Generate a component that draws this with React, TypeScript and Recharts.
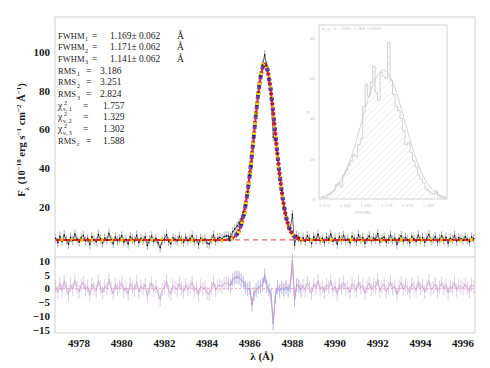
import React from 'react';
import { ComposedChart, Line, Area, XAxis, YAxis, ErrorBar, ReferenceLine } from 'recharts';

// wavelength grid of the spectrum (Å)
const WAVE_START = 4976.9;
const WAVE_STEP = 0.1;

// observed flux, one value per grid point
const FLUX = [
  3.8, 1.6, 4.9, 2.2, 5.6, 3.1, 0.8, 4.4, 2.7, 6.1,
  3.4, 1.9, 4.2, 5.3, 2.5, 3.9, 0.6, 4.7, 3.0, 2.1,
  5.8, 3.6, 1.4, 4.0, 2.9, 6.4, 3.2, 1.1, 4.5, 2.6,
  3.7, 5.1, 2.0, 3.3, 0.9, 4.8, 3.5, 2.4, 5.4, 1.7,
  3.9, 2.8, 4.6, 0.2, 3.1, 5.0, 2.3, 3.8, 1.5, -1.0,
  2.7, 3.6, 5.7, 2.2, 1.0, 4.1, 3.3, 2.5, 4.9, 3.0,
  1.8, 4.4, 2.6, 3.7, 5.2, 2.1, 3.4, 0.7, 4.0, 2.9,
  3.5, 1.3, 0.9, 3.2, 5.5, 2.4, 3.9, 4.3, 3.6, 4.8, 5.1,
  5.0, 4.6, 7.2, 8.6, 10.1, 11.8, 13.9, 17.3, 21.0, 27.6,
  36.9, 41.0, 55.9, 68.1, 79.2, 87.5, 93.4, 98.6, 92.9, 86.4,
  76.5, 56.0, 55.1, 47.6, 36.0, 28.4, 20.1, 15.6, 10.2, 8.8,
  16.2, 0.4, 5.3, 4.4, 2.6,
  4.1, 2.3, 5.2, 3.6, 1.2, 4.7, 3.0, 5.9, 2.6, 3.8,
  1.7, 4.4, 3.3, 6.0, 2.4, 3.9, 0.9, 4.6, 3.1, 5.3,
  2.8, 3.5, 1.6, 4.9, 3.7, 2.2, 5.6, 3.2, 4.2, 1.3,
  3.6, 5.0, 2.7, 4.1, 3.4, 6.3, 2.0, 3.8, 4.5, 1.9,
  3.3, 5.4, 2.9, 4.0, 0.8, 3.7, 5.2, 2.5, 4.3, 3.1,
  1.5, 4.8, 3.6, 2.3, 5.5, 3.0, 4.2, 1.8, 3.9, 5.8,
  2.6, 3.4, 4.7, 2.1, 3.5, 5.1, 2.8, 4.4, 1.4, 3.8,
  3.2, 5.3, 2.4, 4.1, 3.6, 2.9, 4.6, 3.3, 2.0, 4.5, 3.7,
];
const FLUX_ERR = 2.4;
const CONTINUUM = 3.0;

// three line fits, from grid index LINE_START on
const LINE_START = 81;
const MODEL_1 = [
  3.2, 3.5, 3.9, 4.7, 5.9, 7.9, 10.8, 14.9, 20.5, 27.8, 36.6, 46.8, 57.8, 68.7, 78.8, 86.9, 92.2,
  94.0, 92.2, 86.9, 78.8, 68.7, 57.8, 46.8, 36.6, 27.8, 20.5, 14.9, 10.8, 7.9, 5.9, 4.7, 3.9, 3.5, 3.2,
];
const MODEL_2 = [
  3.3, 3.6, 4.0, 4.8, 6.0, 8.0, 10.9, 15.1, 20.7, 28.0, 36.8, 47.0, 57.9, 68.7, 78.6, 86.6, 91.8,
  93.6, 91.9, 86.7, 78.8, 68.9, 58.1, 47.2, 37.0, 28.2, 20.8, 15.1, 11.0, 8.0, 6.0, 4.8, 4.0, 3.6, 3.3,
];
const MODEL_3 = [
  3.1, 3.4, 3.7, 4.4, 5.5, 7.3, 10.1, 14.0, 19.5, 26.8, 35.7, 46.1, 57.4, 68.6, 79.1, 87.5, 93.0,
  95.0, 93.0, 87.5, 79.1, 68.6, 57.4, 46.1, 35.7, 26.8, 19.5, 14.0, 10.1, 7.3, 5.5, 4.4, 3.7, 3.4, 3.1,
];

const X_DOMAIN = [4976.87, 4996.56];
const X_TICKS = [4978, 4980, 4982, 4984, 4986, 4988, 4990, 4992, 4994, 4996];
const Y_DOMAIN = [-5.8, 118.1];
const Y_TICKS = [20, 40, 60, 80, 100];
const RES_DOMAIN = [-16.1, 11.45];
const RES_TICKS = [-15, -10, -5, 0, 5, 10];

// inset: Monte-Carlo FWHM histogram
const HIST_START = 1.154;
const HIST_BIN = 0.0006;
const HIST_COUNTS = [
  0.5, 1, 0.5, 2, 3, 4, 7, 8, 6, 12, 14, 17, 19, 22, 21, 27, 30, 46, 57, 51,
  58, 66, 53, 49, 63, 61, 60, 78, 59, 52, 46, 44, 40, 34, 27, 28, 23, 19, 16, 12,
  10, 8, 5, 4, 3, 2.5, 4, 1.5, 1, 0.5, 0,
];
const HIST_FIT = [
  1.0, 1.4, 1.9, 2.6, 3.4, 4.5, 5.9, 7.5, 9.5, 11.8, 14.6, 17.6, 21.1, 25.0, 29.1, 33.4, 37.9,
  42.4, 46.8, 51.0, 54.8, 58.0, 60.7, 62.6, 63.7, 64.0, 63.4, 62.0, 59.7, 56.8, 53.3, 49.3, 45.1,
  40.6, 36.1, 31.7, 27.4, 23.4, 19.7, 16.4, 13.4, 10.8, 8.7, 6.8, 5.2, 4.0, 3.1, 2.3, 1.7, 1.2, 0.9,
];
const HIST_X_DOMAIN = [1.1537, 1.1845];
const HIST_X_TICKS = [1.155, 1.16, 1.165, 1.17, 1.175, 1.18];
const HIST_Y_DOMAIN = [0, 86.5];
const HIST_Y_TICKS = [0, 20, 40, 60, 80];

const FWHM_NOTES = [
  { sub: '1', value: '1.169', err: '0.062' },
  { sub: '2', value: '1.171', err: '0.062' },
  { sub: '3', value: '1.141', err: '0.062' },
];
const RMS_NOTES = [
  { sub: '1', value: '3.186' },
  { sub: '2', value: '3.251' },
  { sub: '3', value: '2.824' },
];
const CHI_NOTES = [
  { sub: 'ν, 1', value: '1.757' },
  { sub: 'ν, 2', value: '1.329' },
  { sub: 'ν, 3', value: '1.302' },
];
const RMS_C = '1.588';

const SERIF = '"Liberation Serif", "DejaVu Serif", serif';
const FRAME = '#cfcfcf';
const tickFont = { fontSize: 11, fontFamily: SERIF, fontWeight: 700, fill: '#1a1a1a' };

const rows = FLUX.map((f, i) => {
  const k = i - LINE_START;
  const inLine = k >= 0 && k < MODEL_1.length;
  const m1 = inLine ? MODEL_1[k] : CONTINUUM;
  const m2 = inLine ? MODEL_2[k] : CONTINUUM;
  const m3 = inLine ? MODEL_3[k] : CONTINUUM;
  return {
    x: +(WAVE_START + i * WAVE_STEP).toFixed(2),
    flux: f,
    err: FLUX_ERR,
    m1: inLine ? m1 : null,
    m2: inLine ? m2 : null,
    m2full: m2,
    m3full: m3,
    r1: +(f - m1).toFixed(2),
    r2: inLine ? +(f - m2).toFixed(2) : null,
    r3: inLine ? +(f - m3).toFixed(2) : null,
  };
});

const histRows = [
  ...HIST_COUNTS.map((n, k) => ({ x: HIST_START + k * HIST_BIN, n })),
  { x: HIST_START + HIST_COUNTS.length * HIST_BIN, n: HIST_COUNTS[HIST_COUNTS.length - 1] },
];
const fitRows = HIST_FIT.map((fit, k) => ({ x: HIST_START + (k + 0.5) * HIST_BIN, fit }));

const fmtMinus = (v: number) => String(v).replace('-', '\u2212');

const bead = (color: string, offset: number) => ({
  stroke: color,
  strokeWidth: 4,
  strokeDasharray: '2.5 7.5',
  strokeDashoffset: offset,
});

const MainPanel = () => (
  <ComposedChart width={490} height={258} data={rows} margin={{ top: 16, right: 14, bottom: 0, left: 15 }}>
    <XAxis type="number" dataKey="x" domain={X_DOMAIN} allowDataOverflow ticks={X_TICKS}
      tick={false} tickLine={false} height={1} axisLine={{ stroke: FRAME }} />
    <XAxis xAxisId="top" orientation="top" type="number" dataKey="x" domain={X_DOMAIN} allowDataOverflow
      tick={false} tickLine={false} height={1} axisLine={{ stroke: FRAME }} />
    <YAxis type="number" domain={Y_DOMAIN} allowDataOverflow ticks={Y_TICKS} interval={0} width={40}
      tick={tickFont} tickLine={false} tickSize={3} axisLine={{ stroke: FRAME }} />
    <YAxis yAxisId="right" orientation="right" type="number" domain={Y_DOMAIN} allowDataOverflow
      width={1} tick={false} tickLine={false} axisLine={{ stroke: FRAME }} />
    <Line dataKey="flux" stroke="#222" strokeWidth={0.7} dot={{ r: 0.8, fill: '#111', stroke: 'none' }}
      isAnimationActive={false}>
      <ErrorBar dataKey="err" width={0} stroke="#8a8a8a" strokeWidth={0.7} direction="y" />
    </Line>
    <ReferenceLine y={CONTINUUM} stroke="#f06060" strokeDasharray="5 4" strokeWidth={1.2} />
    <Line dataKey="m1" stroke="#f06060" strokeWidth={1.2} strokeDasharray="5 4" dot={false}
      isAnimationActive={false} />
    <Line dataKey="m2full" stroke="#e8262a" strokeWidth={2} dot={false} isAnimationActive={false} />
    <Line dataKey="m1" {...bead('#27278f', 0)} type="monotone" dot={false} isAnimationActive={false} />
    <Line dataKey="m2" {...bead('#b0203c', -2.5)} type="monotone" dot={false} isAnimationActive={false} />
    <Line dataKey="m3full" {...bead('#f2d31c', -5)} type="monotone" dot={false} isAnimationActive={false} />
    <Line dataKey="m2" {...bead('#7b3b9b', -7.5)} type="monotone" dot={false} isAnimationActive={false} />
  </ComposedChart>
);

const ResidualPanel = () => (
  <ComposedChart width={490} height={121} data={rows} margin={{ top: 10, right: 14, bottom: 11, left: 15 }}>
    <XAxis type="number" dataKey="x" domain={X_DOMAIN} allowDataOverflow ticks={X_TICKS} interval={0}
      height={24} tick={tickFont} tickLine={false} tickSize={4} tickMargin={2} axisLine={{ stroke: FRAME }} />
    <YAxis type="number" domain={RES_DOMAIN} allowDataOverflow ticks={RES_TICKS} interval={0} width={40}
      tick={tickFont} tickFormatter={fmtMinus} tickLine={false} tickSize={3} axisLine={{ stroke: FRAME }} />
    <YAxis yAxisId="right" orientation="right" type="number" domain={RES_DOMAIN} allowDataOverflow
      width={1} tick={false} tickLine={false} axisLine={{ stroke: FRAME }} />
    <ReferenceLine y={0} stroke="#f3b0b0" strokeDasharray="2 2" />
    <Line dataKey="r1" stroke="#c89fce" strokeWidth={0.8} dot={false} isAnimationActive={false}>
      <ErrorBar dataKey="err" width={0} stroke="#d7b6dc" strokeWidth={0.7} direction="y" />
    </Line>
    <Line dataKey="r2" stroke="#95a3e6" strokeWidth={0.8} dot={false} isAnimationActive={false}>
      <ErrorBar dataKey="err" width={0} stroke="#b3bdf0" strokeWidth={0.7} direction="y" />
    </Line>
    <Line dataKey="r3" stroke="#f2a2a2" strokeWidth={0.8} strokeDasharray="2 2" dot={false}
      isAnimationActive={false} />
  </ComposedChart>
);

const INSET_LINE = '#d2d2d2';
const insetTick = { fontSize: 5, fontFamily: SERIF, fill: '#bdbdbd' };

const InsetHistogram = () => (
  <ComposedChart width={180} height={205} margin={{ top: 9, right: 22, bottom: 9, left: 15 }}>
    <defs>
      <pattern id="hatch" patternUnits="userSpaceOnUse" width={4.5} height={4.5} patternTransform="rotate(45)">
        <line x1={0} y1={0} x2={0} y2={4.5} stroke="#d6d6d6" strokeWidth={0.7} />
      </pattern>
    </defs>
    <XAxis type="number" dataKey="x" domain={HIST_X_DOMAIN} allowDataOverflow ticks={HIST_X_TICKS} interval={0}
      height={12} tick={insetTick} tickFormatter={(v: number) => v.toFixed(3)} tickLine={false} tickSize={2}
      axisLine={{ stroke: INSET_LINE }} />
    <XAxis xAxisId="top" orientation="top" type="number" dataKey="x" domain={HIST_X_DOMAIN} allowDataOverflow
      tick={false} tickLine={false} height={1} axisLine={{ stroke: INSET_LINE }} />
    <YAxis type="number" domain={HIST_Y_DOMAIN} allowDataOverflow ticks={HIST_Y_TICKS} interval={0} width={14}
      tick={insetTick} tickLine={false} tickSize={2} axisLine={{ stroke: INSET_LINE }} />
    <YAxis yAxisId="right" orientation="right" type="number" domain={HIST_Y_DOMAIN} allowDataOverflow
      width={1} tick={false} tickLine={false} axisLine={{ stroke: INSET_LINE }} />
    <Area data={histRows} type="stepAfter" dataKey="n" baseValue={0} fill="url(#hatch)" fillOpacity={1}
      stroke="#c6c6c6" strokeWidth={0.8} isAnimationActive={false} />
    <Line data={fitRows} type="monotone" dataKey="fit" stroke="#c8c8c8" strokeWidth={0.8} dot={false}
      isAnimationActive={false} />
  </ComposedChart>
);

const Sup = ({ children }: { children: React.ReactNode }) => (
  <tspan baselineShift="super" fontSize={7}>{children}</tspan>
);
const Sub = ({ children }: { children: React.ReactNode }) => (
  <tspan baselineShift="sub" fontSize={7}>{children}</tspan>
);

// one <text> per row; the parts are placed with absolute tspan x positions
const Notes = () => {
  const base = 38.5;
  const step = 11.7;
  const txt = { fontFamily: SERIF, fontSize: 9.5, fill: '#1c1c1c' };
  const y = (r: number) => base + r * step;
  return (
    <svg width={490} height={368} style={{ position: 'absolute', left: 0, top: 0, pointerEvents: 'none' }}>
      <g {...txt}>
        {FWHM_NOTES.map((n, i) => (
          <text key={'f' + i} y={y(i)}>
            <tspan x={58} fontSize={8.5}>FWHM</tspan>
            <tspan x={85} y={y(i) + 2.5} fontSize={6}>{n.sub}</tspan>
            <tspan x={92} y={y(i)}>=</tspan>
            <tspan x={110}>{n.value}± {n.err}</tspan>
            <tspan x={177}>Å</tspan>
          </text>
        ))}
        {RMS_NOTES.map((n, i) => (
          <text key={'r' + i} y={y(i + 3)}>
            <tspan x={58} fontSize={8.5}>RMS</tspan>
            <tspan x={77} y={y(i + 3) + 2.5} fontSize={6}>{n.sub}</tspan>
            <tspan x={86} y={y(i + 3)}>=</tspan>
            <tspan x={100}>{n.value}</tspan>
          </text>
        ))}
        {CHI_NOTES.map((n, i) => (
          <text key={'c' + i} y={y(i + 6)}>
            <tspan x={58}>χ</tspan>
            <tspan x={64} y={y(i + 6) - 4} fontSize={6}>2</tspan>
            <tspan x={63} y={y(i + 6) + 2.5} fontSize={6}>{n.sub}</tspan>
            <tspan x={83} y={y(i + 6)}>=</tspan>
            <tspan x={103}>{n.value}</tspan>
          </text>
        ))}
        <text y={y(9)}>
          <tspan x={58} fontSize={8.5}>RMS</tspan>
          <tspan x={77} y={y(9) + 2.5} fontSize={6}>c</tspan>
          <tspan x={86} y={y(9)}>=</tspan>
          <tspan x={103}>{RMS_C}</tspan>
        </text>
      </g>
      <text transform="translate(25,140) rotate(-90)" textAnchor="middle" fontFamily={SERIF} fontSize={10.5}
        fontWeight={700} fill="#1a1a1a">
        F<Sub>λ</Sub> (10<Sup>−18</Sup> erg s<Sup>−1</Sup> cm<Sup>−2</Sup> Å<Sup>−1</Sup>)
      </text>
      <text x={262} y={360} textAnchor="middle" fontFamily={SERIF} fontSize={11} fontWeight={700} fill="#1a1a1a">
        λ (Å)
      </text>
      <g fontFamily={SERIF} fill="#c2c2c2">
        <text x={322} y={30} fontSize={5}>σ, μ, A = 1000, 1.169, 0.0039</text>
        <text x={306} y={114} fontSize={5}>N</text>
        <text x={355} y={214} fontSize={5}>FWHM</text>
      </g>
    </svg>
  );
};

export default function App() {
  return (
    <div style={{ position: 'absolute', left: 0, top: 0, width: 490, height: 368, background: '#fff' }}>
      <div style={{ position: 'absolute', left: 0, top: 247 }}>
        <ResidualPanel />
      </div>
      <div style={{ position: 'absolute', left: 0, top: 0 }}>
        <MainPanel />
      </div>
      <div style={{ position: 'absolute', left: 290, top: 15 }}>
        <InsetHistogram />
      </div>
      <Notes />
    </div>
  );
}
